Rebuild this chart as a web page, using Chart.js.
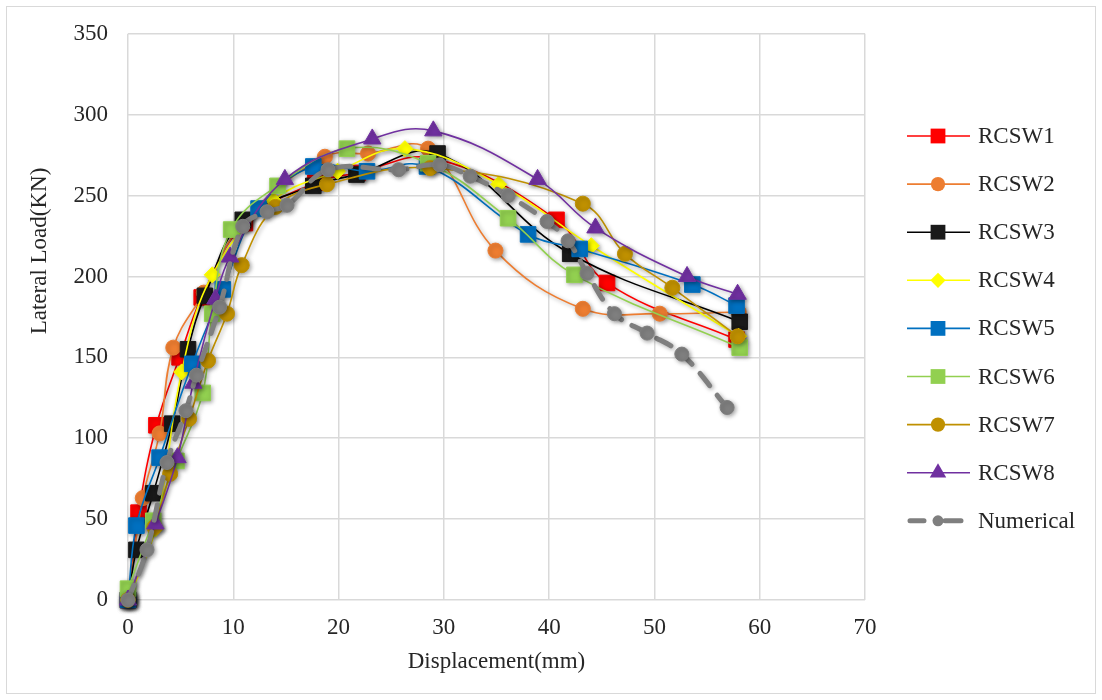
<!DOCTYPE html>
<html>
<head>
<meta charset="utf-8">
<script src="https://cdn.jsdelivr.net/npm/chart.js@4/dist/chart.umd.min.js"></script>
<style>
html,body{margin:0;padding:0;background:#fff;}
#wrap{position:relative;width:1102px;height:700px;}
canvas{display:block;}
</style>
</head>
<body>
<div id="wrap"><canvas id="c" width="1102" height="700"></canvas></div>
<script>
// ---- data (displacement mm, lateral load kN) ----
const seriesNames = ['RCSW1','RCSW2','RCSW3','RCSW4','RCSW5','RCSW6','RCSW7','RCSW8','Numerical'];
const xTicks = [0,10,20,30,40,50,60,70];
const yTicks = [0,50,100,150,200,250,300,350];

const dispRCSW1 = [0,1.0,2.7,4.9,7.0,11.1,17.8,21.8,29.0,40.7,45.5,57.8];
const loadRCSW1 = [0,54,108,150,187,233,258,264,273,235,196,161];

const dispRCSW2 = [0,1.4,3.0,4.3,7.2,11.0,18.7,22.8,28.5,34.9,43.2,50.5,58.0];
const loadRCSW2 = [0,63,103,156,190,234,274,276,279,216,180,177,178];

const dispRCSW3 = [0,0.8,2.4,4.2,5.7,7.3,10.9,17.6,21.7,29.4,42.0,58.1];
const loadRCSW3 = [0,31,66,109,155,188,235,256,263,276,214,172];

const dispRCSW4 = [0,2.6,5.1,8.0,13.8,19.9,26.3,35.2,44.0,58.0];
const loadRCSW4 = [0,44,141,201,247,265,279,257,219,163];

const dispRCSW5 = [0,0.8,3.0,6.1,9.0,12.4,17.6,22.7,28.4,38.0,42.9,53.6,57.8];
const loadRCSW5 = [0,46,88,146,192,242,268,265,268,226,217,195,182];

const dispRCSW6 = [0,2.4,4.6,7.1,8.0,9.8,14.2,20.8,28.5,36.1,42.4,58.1];
const loadRCSW6 = [7,49,86,128,177,229,256,279,270,236,201,156];

const dispRCSW7 = [0,2.5,4.0,5.8,7.6,9.4,10.8,14.0,18.9,28.7,43.2,47.2,51.7,57.9];
const loadRCSW7 = [0,45,78,112,148,177,207,243,257,267,245,214,193,163];

const dispRCSW8 = [0,2.6,4.7,6.2,8.3,9.7,14.9,23.2,29.0,38.9,44.4,53.1,57.9];
const loadRCSW8 = [0,47,88,134,186,212,260,285,290,260,230,200,189];

const dispNumerical = [0,1.8,3.7,5.5,6.5,8.7,10.9,13.2,15.1,19.0,25.7,29.6,32.5,36.1,39.8,41.8,43.6,46.2,49.3,52.6,56.9];
const loadNumerical = [0,31,85,117,139,181,231,240,244,266,266,269,262,250,234,222,202,177,165,152,119];

// ---- styles ----
const FONT = "'Liberation Serif','Times New Roman',serif";
const TXT = '#262626';
const styles = [
  {c:'#FF0000', fill:'#FF0000', ps:'rect', r:11},
  {c:'#ED7D31', fill:'#ED7D31', ps:'circle', r:7.5},
  {c:'#000000', fill:'#1a1a1a', ps:'rect', r:11},
  {c:'#FFFF00', fill:'#FFFF00', ps:'rectRot', r:8},
  {c:'#0070C0', fill:'#0070C0', ps:'rect', r:11},
  {c:'#92D050', fill:'#92D050', ps:'rect', r:11},
  {c:'#BF9000', fill:'#BF9000', ps:'circle', r:7.5},
  {c:'#7030A0', fill:'#7030A0', ps:'triangle', r:10},
  {c:'#7F7F7F', fill:'#7F7F7F', ps:'circle', r:7}
];
const dispAll = [dispRCSW1,dispRCSW2,dispRCSW3,dispRCSW4,dispRCSW5,dispRCSW6,dispRCSW7,dispRCSW8,dispNumerical];
const loadAll = [loadRCSW1,loadRCSW2,loadRCSW3,loadRCSW4,loadRCSW5,loadRCSW6,loadRCSW7,loadRCSW8,loadNumerical];

const datasets = seriesNames.map((name,i)=>{
  const s = styles[i];
  const isNum = name==='Numerical';
  return {
    label:name,
    data: dispAll[i].map((x,k)=>({x:x,y:loadAll[i][k]})),
    borderColor:s.c,
    backgroundColor:s.fill,
    borderWidth: isNum?5:1.6,
    borderDash: isNum?[16,12]:[],
    borderCapStyle: isNum?'round':'butt',
    pointStyle:s.ps,
    pointRadius:s.r,
    pointHoverRadius:s.r,
    pointBorderWidth:1,
    pointBorderColor:s.fill,
    pointBackgroundColor:s.fill,
    tension:0.4,
    fill:false,
    clip:false,
    order: seriesNames.length - i
  };
});

const framePlugin = {
  id:'frame',
  beforeDraw(chart){
    const ctx=chart.ctx;
    ctx.save();
    ctx.fillStyle='#fff';
    ctx.fillRect(0,0,chart.width,chart.height);
    ctx.strokeStyle='#d9d9d9';
    ctx.lineWidth=1;
    ctx.strokeRect(6.5,6.5,1089,687);
    ctx.restore();
  }
};

const shadowPlugin = {
  id:'shadow',
  beforeDatasetDraw(chart){
    const c=chart.ctx; c.save();
    c.shadowColor='rgba(0,0,0,0.35)'; c.shadowBlur=4; c.shadowOffsetX=1.5; c.shadowOffsetY=1.5;
  },
  afterDatasetDraw(chart){ chart.ctx.restore(); }
};

function marker(ctx, ps, r, x, y){
  ctx.beginPath();
  if(ps==='rect'){ const s=r*Math.SQRT1_2; ctx.rect(x-s,y-s,2*s,2*s); }
  else if(ps==='circle'){ ctx.arc(x,y,r,0,Math.PI*2); }
  else if(ps==='rectRot'){ ctx.moveTo(x,y-r); ctx.lineTo(x+r,y); ctx.lineTo(x,y+r); ctx.lineTo(x-r,y); ctx.closePath(); }
  else if(ps==='triangle'){ ctx.moveTo(x,y-r); ctx.lineTo(x+r*Math.sin(Math.PI/3)*1.0,y+r*0.5); ctx.lineTo(x-r*Math.sin(Math.PI/3),y+r*0.5); ctx.closePath(); }
  ctx.fill();
}

const legendPlugin = {
  id:'customLegend',
  afterDraw(chart){
    const ctx=chart.ctx;
    ctx.save();
    chart.data.datasets.forEach((ds,i)=>{
      const y = 136 + i*48.1;
      const s = styles[i];
      ctx.strokeStyle=ds.borderColor;
      ctx.lineWidth=ds.borderWidth;
      ctx.lineCap=ds.borderCapStyle;
      ctx.setLineDash([]);
      ctx.beginPath();
      if(ds.label==='Numerical'){
        ctx.moveTo(910,y); ctx.lineTo(924,y);
        ctx.moveTo(945,y); ctx.lineTo(961,y);
      } else {
        ctx.moveTo(907,y); ctx.lineTo(970,y);
      }
      ctx.stroke();
      ctx.fillStyle=s.fill;
      marker(ctx, s.ps, ds.label==='Numerical'?5.5:s.r*0.95, 938, y);
      ctx.fillStyle=TXT;
      ctx.font="23px "+FONT;
      ctx.textAlign='left';
      ctx.textBaseline='middle';
      ctx.fillText(ds.label, 978, y+1);
    });
    // y axis title
    ctx.translate(40,251);
    ctx.rotate(-Math.PI/2);
    ctx.textAlign='center';
    ctx.textBaseline='middle';
    ctx.fillStyle=TXT;
    ctx.font="23px "+FONT;
    ctx.fillText('Lateral Load(KN)',0,0);
    ctx.restore();
  }
};

new Chart(document.getElementById('c'), {
  type:'line',
  data:{datasets:datasets},
  plugins:[framePlugin, shadowPlugin, legendPlugin],
  options:{
    responsive:false,
    animation:false,
    devicePixelRatio:1,
    layout:{padding:{left:0,right:237,top:32,bottom:0}},
    plugins:{legend:{display:false},tooltip:{enabled:false}},
    scales:{
      x:{
        type:'linear', min:0, max:70,
        afterBuildTicks(s){ s.ticks = xTicks.map(v=>({value:v})); },
        ticks:{padding:14, font:{family:FONT,size:23}, color:TXT},
        grid:{color:'#d9d9d9', lineWidth:1.5, drawTicks:false},
        border:{display:false},
        title:{display:true, text:'Displacement(mm)', font:{family:FONT,size:23}, color:TXT, padding:{top:0,bottom:24}},
        afterFit(s){ s.height=100; }
      },
      y:{
        type:'linear', min:0, max:350,
        afterBuildTicks(s){ s.ticks = yTicks.map(v=>({value:v})); },
        ticks:{padding:20, font:{family:FONT,size:23}, color:TXT},
        grid:{color:'#d9d9d9', lineWidth:1.5, drawTicks:false},
        border:{display:false},
        afterFit(s){ s.width=128; }
      }
    }
  }
});
</script>
</body>
</html>
